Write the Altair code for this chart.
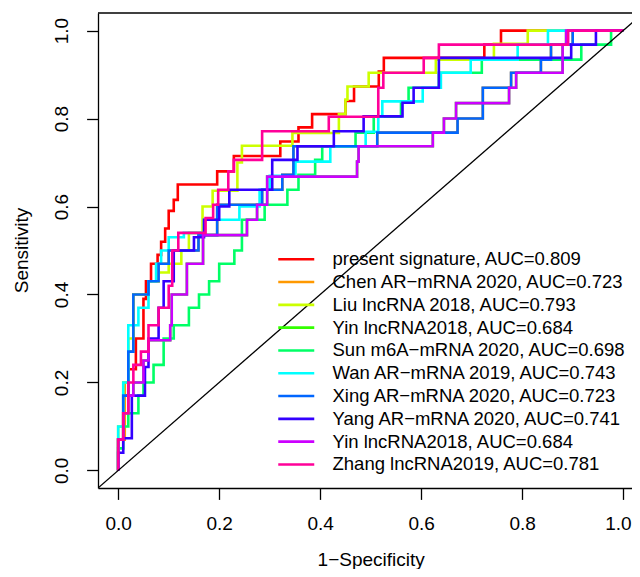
import altair as alt
import pandas as pd

# ---------------- data ----------------
axis_ticks = [0.0, 0.2, 0.4, 0.6, 0.8, 1.0]
diag = [-0.04, 1.04]

series_keys = ["s0", "s1", "s2", "s3", "s4", "s5", "s6", "s7", "s8", "s9"]
series_names = ["present signature", "Chen AR\u2212mRNA 2020", "Liu lncRNA 2018",
                "Yin lncRNA2018", "Sun m6A\u2212mRNA 2020", "Wan AR\u2212mRNA 2019",
                "Xing AR\u2212mRNA 2020", "Yang AR\u2212mRNA 2020", "Yin lncRNA2018",
                "Zhang lncRNA2019"]
series_auc = ["0.809", "0.723", "0.793", "0.684", "0.698", "0.743", "0.723", "0.741", "0.684", "0.781"]
series_colors = ["#FF0000", "#FF9900", "#CCFF00", "#33FF00", "#00FF66",
                 "#00FFFF", "#0066FF", "#3300FF", "#CC00FF", "#FF0099"]

# step curves: x position of each vertical jump and the sensitivity reached there
red_x = [0, 0.01, 0.02, 0.035, 0.05, 0.055, 0.065, 0.078, 0.085, 0.093, 0.1, 0.11, 0.118,
         0.196, 0.229, 0.321, 0.357, 0.384, 0.45, 0.467, 0.516, 0.526, 0.725, 0.758]
red_y = [0.07, 0.17, 0.23, 0.3, 0.39, 0.43, 0.47, 0.49, 0.52, 0.55, 0.59, 0.615, 0.65,
         0.68, 0.715, 0.748, 0.78, 0.81, 0.84, 0.873, 0.907, 0.938, 0.968, 1.0]

chen_x = [0, 0.013, 0.02, 0.03, 0.06, 0.08, 0.1, 0.159, 0.196, 0.285, 0.325, 0.347,
          0.513, 0.672, 0.722, 0.778, 0.837, 0.857, 0.9]
chen_y = [0.07, 0.2, 0.27, 0.4, 0.43, 0.47, 0.5, 0.535, 0.604, 0.638, 0.672, 0.737,
          0.768, 0.80, 0.87, 0.904, 0.934, 0.968, 1.0]

liu_x = [0, 0.01, 0.02, 0.03, 0.06, 0.08, 0.1, 0.125, 0.14, 0.167, 0.187, 0.236, 0.245,
         0.345, 0.437, 0.45, 0.454, 0.496, 0.629, 0.744, 0.811]
liu_y = [0.1, 0.2, 0.3, 0.4, 0.43, 0.45, 0.47, 0.5, 0.54, 0.6, 0.636, 0.70, 0.738,
         0.767, 0.81, 0.843, 0.873, 0.904, 0.934, 0.97, 1.0]

yin1_x = [0, 0.01, 0.02, 0.03, 0.05, 0.06, 0.103, 0.106, 0.136, 0.168, 0.255, 0.275,
          0.295, 0.473, 0.476, 0.623, 0.645, 0.669, 0.774, 0.788, 0.88, 0.887]
yin1_y = [0.07, 0.13, 0.17, 0.2, 0.25, 0.296, 0.33, 0.4, 0.47, 0.535, 0.57, 0.604,
          0.668, 0.702, 0.737, 0.768, 0.80, 0.835, 0.87, 0.904, 0.968, 1.0]

sun_x = [0, 0.01, 0.02, 0.04, 0.05, 0.07, 0.09, 0.11, 0.14, 0.16, 0.18, 0.2, 0.23, 0.245,
         0.29, 0.335, 0.357, 0.39, 0.404, 0.47, 0.506, 0.56, 0.575, 0.635, 0.72, 0.917, 0.976]
sun_y = [0.05, 0.1, 0.13, 0.17, 0.2, 0.24, 0.3, 0.33, 0.37, 0.4, 0.43, 0.47, 0.5, 0.57,
         0.604, 0.638, 0.672, 0.706, 0.737, 0.768, 0.804, 0.836, 0.87, 0.904, 0.934, 0.968, 1.0]

wan_x = [0, 0.01, 0.02, 0.04, 0.06, 0.075, 0.085, 0.1, 0.13, 0.17, 0.24, 0.28, 0.3, 0.351,
         0.42, 0.49, 0.515, 0.523, 0.603, 0.639, 0.698, 0.791, 0.851]
wan_y = [0.1, 0.2, 0.33, 0.37, 0.43, 0.47, 0.5, 0.53, 0.54, 0.57, 0.6, 0.638, 0.67, 0.702,
         0.737, 0.77, 0.804, 0.839, 0.87, 0.904, 0.934, 0.968, 1.0]

xing_x = [0, 0.01, 0.02, 0.03, 0.06, 0.08, 0.1, 0.159, 0.196, 0.285, 0.325, 0.347,
          0.513, 0.672, 0.722, 0.778, 0.837, 0.857, 0.9]
xing_y = [0.07, 0.17, 0.27, 0.4, 0.43, 0.47, 0.5, 0.535, 0.604, 0.638, 0.672, 0.737,
          0.768, 0.80, 0.87, 0.904, 0.934, 0.968, 1.0]

yang_x = [0, 0.01, 0.027, 0.053, 0.06, 0.08, 0.09, 0.11, 0.15, 0.17, 0.2, 0.22, 0.305,
          0.355, 0.427, 0.486, 0.563, 0.585, 0.635, 0.897, 0.946]
yang_y = [0.04, 0.073, 0.17, 0.235, 0.3, 0.37, 0.43, 0.5, 0.53, 0.57, 0.6, 0.638, 0.706,
          0.737, 0.771, 0.805, 0.836, 0.87, 0.938, 0.968, 1.0]

yin2_x = [0, 0.01, 0.02, 0.03, 0.05, 0.06, 0.103, 0.106, 0.136, 0.168, 0.255, 0.275,
          0.295, 0.473, 0.476, 0.623, 0.645, 0.669, 0.774, 0.788, 0.88, 0.887]
yin2_y = [0.07, 0.13, 0.17, 0.2, 0.25, 0.296, 0.33, 0.4, 0.47, 0.535, 0.57, 0.604,
          0.668, 0.702, 0.737, 0.768, 0.80, 0.835, 0.87, 0.904, 0.968, 1.0]

zhang_x = [0, 0.01, 0.02, 0.03, 0.045, 0.06, 0.08, 0.1, 0.107, 0.119, 0.173, 0.188, 0.198,
           0.218, 0.229, 0.285, 0.417, 0.515, 0.525, 0.605, 0.635, 0.891]
zhang_y = [0.07, 0.13, 0.2, 0.24, 0.27, 0.33, 0.37, 0.42, 0.5, 0.54, 0.574, 0.604, 0.638,
           0.68, 0.706, 0.771, 0.804, 0.87, 0.904, 0.938, 0.968, 1.0]

curves = [(red_x, red_y), (chen_x, chen_y), (liu_x, liu_y), (yin1_x, yin1_y),
          (sun_x, sun_y), (wan_x, wan_y), (xing_x, xing_y), (yang_x, yang_y),
          (yin2_x, yin2_y), (zhang_x, zhang_y)]

# ---------------- build tables ----------------
rows = []
for key, (xs, ys) in zip(series_keys, curves):
    px, py = [0.0], [0.0]
    for x, y in zip(xs, ys):
        px.append(x); py.append(py[-1])
        px.append(x); py.append(y)
    px.append(1.0); py.append(py[-1])
    for i, (a, b) in enumerate(zip(px, py)):
        rows.append({"key": key, "fpr": a, "tpr": b, "idx": i})
df = pd.DataFrame(rows)
diag_df = pd.DataFrame({"fpr": diag, "tpr": diag})

labels = [f"{n}, AUC={a}" for n, a in zip(series_names, series_auc)]
label_expr = ("[" + ",".join("'" + l + "'" for l in labels) + "][indexof(["
              + ",".join("'" + k + "'" for k in series_keys) + "], datum.value)]")

FONT = "Liberation Sans"
FS = 19
LFS = 18.5
W, H = 534, 475
PXU = 505.0  # pixels per unit on x

x_scale = alt.Scale(domain=[-0.04, -0.04 + W / PXU], nice=False, zero=False)
y_scale = alt.Scale(domain=[-0.04, 1.04], nice=False, zero=False)

x_axis = alt.Axis(values=axis_ticks, format=".1f", title="1\u2212Specificity", grid=False,
                  tickSize=11.4, tickColor="black", tickWidth=1.3,
                  domainColor="black", domainWidth=1.3,
                  labelFont=FONT, labelFontSize=FS, labelColor="black", labelPadding=29.6,
                  labelBaseline="alphabetic", labelFlush=10, labelFlushOffset=8,
                  titleFont=FONT, titleFontSize=FS, titleFontWeight="normal",
                  titleColor="black", titleBaseline="alphabetic", titleY=77,
                  titleX=(0.5 + 0.04) * PXU)
y_axis = alt.Axis(values=axis_ticks, format=".1f", title="Sensitivity", grid=False,
                  tickSize=11.4, tickColor="black", tickWidth=1.3,
                  domainColor="black", domainWidth=1.3,
                  labelFont=FONT, labelFontSize=FS, labelColor="black", labelPadding=18.7,
                  labelAngle=270, labelAlign="center", labelBaseline="alphabetic",
                  labelFlush=False,
                  titleFont=FONT, titleFontSize=FS, titleFontWeight="normal",
                  titleColor="black", titleAngle=270, titleAlign="center",
                  titleBaseline="alphabetic", titleX=-71, titleY=237)

X = alt.X("fpr:Q", scale=x_scale, axis=x_axis)
Y = alt.Y("tpr:Q", scale=y_scale, axis=y_axis)

diag_line = alt.Chart(diag_df).mark_line(color="black", strokeWidth=1.3, clip=True).encode(x=X, y=Y)

curves_chart = alt.Chart(df).mark_line(strokeWidth=2.6, clip=True).encode(
    x=X, y=Y,
    color=alt.Color("key:N",
                    scale=alt.Scale(domain=series_keys, range=series_colors),
                    legend=alt.Legend(title=None, orient="none", legendX=189, legendY=237,
                                      symbolType="M-18,0H18", symbolSize=4,
                                      symbolStrokeWidth=2.6, labelOffset=27,
                                      labelFont=FONT, labelFontSize=LFS, labelColor="black",
                                      labelExpr=label_expr, rowPadding=3.8, padding=0,
                                      labelLimit=500)),
    order=alt.Order("idx:Q"),
)

top_border = alt.Chart(pd.DataFrame({"k": [0]})).mark_rule(color="black", strokeWidth=1.3).encode(
    x=alt.value(0), x2=alt.value(W), y=alt.value(0))

chart = alt.layer(curves_chart, diag_line, top_border).properties(
    width=W, height=H,
    autosize=alt.AutoSizeParams(type="none"),
    padding={"left": 90, "top": 5, "right": 0, "bottom": 81},
).configure_view(stroke=None)

chart.save("out.html", embed_options={"renderer": "svg", "actions": False})
